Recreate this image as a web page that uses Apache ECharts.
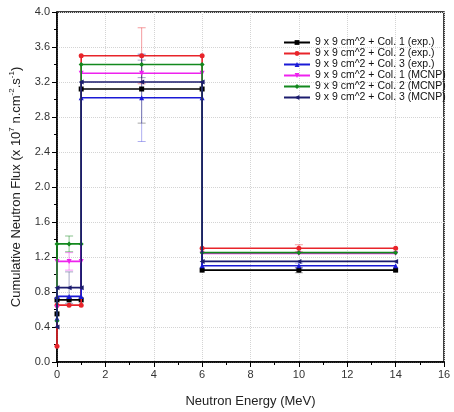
<!DOCTYPE html>
<html>
<head>
<meta charset="utf-8">
<script src="https://cdn.jsdelivr.net/npm/echarts@6/dist/echarts.min.js"></script>
<style>
  html, body { margin: 0; padding: 0; background: #fff; }
  #chart { width: 454px; height: 412px; }
</style>
</head>
<body>
<div id="chart"></div>
<script>
// energy points of the step spectrum (MeV)
const energies = [0, 0, 0.5, 1, 1, 3.5, 6, 6, 10, 14];

const names = [
  '9 x 9 cm^2 + Col. 1 (exp.)',
  '9 x 9 cm^2 + Col. 2 (exp.)',
  '9 x 9 cm^2 + Col. 3 (exp.)',
  '9 x 9 cm^2 + Col. 1 (MCNP)',
  '9 x 9 cm^2 + Col. 2 (MCNP)',
  '9 x 9 cm^2 + Col. 3 (MCNP)'
];

// flux values, x 10^7 n.cm^-2.s^-1
const col1Exp  = [0.55, 0.71, 0.71, 0.71, 3.12, 3.12, 3.12, 1.05, 1.05, 1.05];
const col2Exp  = [0.18, 0.65, 0.65, 0.65, 3.50, 3.50, 3.50, 1.30, 1.30, 1.30];
const col3Exp  = [0.50, 0.75, 0.75, 0.75, 3.02, 3.02, 3.02, 1.10, 1.10, 1.10];
const col1Mcnp = [0.62, 1.15, 1.15, 1.15, 3.30, 3.30, 3.30, 1.24, 1.24, 1.24];
const col2Mcnp = [0.47, 1.35, 1.35, 1.35, 3.40, 3.40, 3.40, 1.25, 1.25, 1.25];
const col3Mcnp = [0.40, 0.85, 0.85, 0.85, 3.20, 3.20, 3.20, 1.15, 1.15, 1.15];

// error bars: [energy, low, high, series index]
const errorBars = [
  [3.5, 3.18, 3.82, 1],
  [3.5, 2.73, 3.51, 0],
  [3.5, 2.52, 3.52, 2],
  [3.5, 3.25, 3.45, 5],
  [0.5, 1.26, 1.44, 4],
  [0.5, 1.05, 1.25, 3],
  [0.5, 0.67, 1.03, 5],
  [10, 1.26, 1.34, 1],
  [10, 1.02, 1.08, 0],
  [10, 1.07, 1.13, 2]
];

const seriesValues = [col1Exp, col2Exp, col3Exp, col1Mcnp, col2Mcnp, col3Mcnp];
const colors = ['#000000', '#e8242a', '#1a1ad6', '#ee22ee', '#13891e', '#1c1c6e'];
const symbols = ['rect', 'circle', 'triangle', 'path://M0,0 L10,0 L5,9 Z', 'diamond', 'path://M0,5 L9,0 L9,10 Z'];
const errColors = ['rgba(0,0,0,0.35)', 'rgba(232,36,42,0.45)', 'rgba(26,26,214,0.35)',
  'rgba(238,34,238,0.45)', 'rgba(19,137,30,0.5)', 'rgba(28,28,110,0.4)'];

const chart = echarts.init(document.getElementById('chart'));

const lineSeries = seriesValues.map((vals, i) => ({
  name: names[i],
  type: 'line',
  data: vals.map((v, k) => [energies[k], v]),
  symbol: symbols[i],
  symbolSize: 5,
  showAllSymbol: true,
  lineStyle: { color: colors[i], width: 1.6 },
  itemStyle: { color: colors[i] },
  z: 3 + i
}));

const errSeries = {
  type: 'custom',
  silent: true,
  z: 2,
  data: errorBars,
  renderItem: (params, api) => {
    const x = api.value(0);
    const lo = api.coord([x, api.value(1)]);
    const hi = api.coord([x, api.value(2)]);
    const c = errColors[api.value(3)];
    const w = 4;
    const style = { stroke: c, lineWidth: 1 };
    return {
      type: 'group',
      children: [
        { type: 'line', shape: { x1: lo[0], y1: lo[1], x2: hi[0], y2: hi[1] }, style },
        { type: 'line', shape: { x1: lo[0] - w, y1: lo[1], x2: lo[0] + w, y2: lo[1] }, style },
        { type: 'line', shape: { x1: hi[0] - w, y1: hi[1], x2: hi[0] + w, y2: hi[1] }, style }
      ]
    };
  }
};

chart.setOption({
  animation: false,
  grid: {
    left: 57, right: 10, top: 12, bottom: 50,
    outerBoundsMode: 'none',
    containLabel: false,
    show: true, borderColor: '#000', borderWidth: 1.5
  },
  legend: {
    orient: 'vertical',
    left: 283,
    top: 37,
    padding: 0,
    itemWidth: 26,
    itemHeight: 6,
    itemGap: 0,
    textStyle: { fontSize: 10.5, lineHeight: 10.6, color: '#111', fontFamily: 'Liberation Sans' },
    data: names
  },
  xAxis: {
    type: 'value',
    min: 0, max: 16, interval: 2,
    name: 'Neutron Energy (MeV)',
    nameLocation: 'middle',
    nameGap: 33,
    nameTextStyle: { fontSize: 13, color: '#222', fontFamily: 'Liberation Sans' },
    axisLine: { lineStyle: { color: '#000', width: 1.5 } },
    axisTick: { inside: false, length: 5, lineStyle: { color: '#000' } },
    minorTick: { show: true, splitNumber: 2, length: 3, lineStyle: { color: '#000' } },
    axisLabel: { fontSize: 11, color: '#333', margin: 7, fontFamily: 'Liberation Sans' },
    splitLine: { show: true, lineStyle: { color: '#d4d4d4', type: 'dotted' } }
  },
  yAxis: {
    type: 'value',
    min: 0, max: 4, interval: 0.4,
    name: 'Cumulative Neutron Flux (x 10{sup|7} n.cm{sup|-2}.s{sup|-1})',
    nameLocation: 'middle',
    nameGap: 33,
    nameTextStyle: {
      fontSize: 13, color: '#222', fontFamily: 'Liberation Sans',
      rich: { sup: { fontSize: 8, verticalAlign: 'top', padding: [0, 0, 8, 0], color: '#222' } }
    },
    axisLine: { lineStyle: { color: '#000', width: 1.5 } },
    axisTick: { inside: false, length: 5, lineStyle: { color: '#000' } },
    minorTick: { show: true, splitNumber: 2, length: 3, lineStyle: { color: '#000' } },
    axisLabel: {
      fontSize: 11, color: '#333', margin: 7, fontFamily: 'Liberation Sans',
      formatter: v => v.toFixed(1)
    },
    splitLine: { show: true, lineStyle: { color: '#d4d4d4', type: 'dotted' } }
  },
  series: [errSeries, ...lineSeries]
});
</script>
</body>
</html>
